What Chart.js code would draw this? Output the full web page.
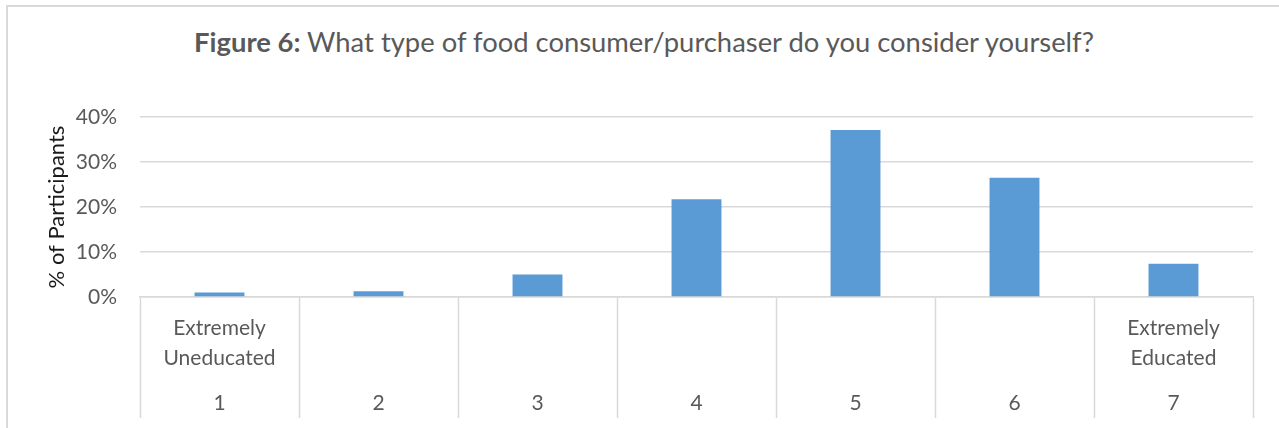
<!DOCTYPE html>
<html lang="en">
<head>
    <meta charset="UTF-8">
    <title>Figure 6: Food consumer type</title>
    <script src="https://cdn.jsdelivr.net/npm/chart.js"></script>
    <style>
        body { margin: 0; background: #fff; }
        #wrap { position: relative; width: 1279px; height: 428px; overflow: hidden; }
        #frame { position: absolute; left: 6px; top: 5px; width: 1400px; height: 500px;
                 border-top: 2px solid #d9d9d9; border-left: 2px solid #d9d9d9; }
        #title { position: absolute; left: 0; width: 1288px; top: 25px; text-align: center;
                 font-family: Lato, sans-serif; font-size: 27.4px; color: #595959; white-space: nowrap; }
        #title b { font-weight: 700; }
        canvas { position: absolute; left: 0; top: 0; }
    </style>
</head>
<body>
<div id="wrap">
    <div id="frame"></div>
    <div id="title"><b>Figure 6:</b> What type of food consumer/purchaser do you consider yourself?</div>
    <canvas id="foodChart" width="1279" height="428"></canvas>
</div>

<script>
// scale points 1..7 and the share of participants choosing each (%)
const scalePoints = ['1', '2', '3', '4', '5', '6', '7'];
const endLabels = ['Extremely\nUneducated', '', '', '', '', '', 'Extremely\nEducated'];
const participantPct = [1.0, 1.3, 5.0, 21.7, 37.1, 26.5, 7.4];
const yTicks = [0, 10, 20, 30, 40];

// each tick label: end-point description on top, scale number underneath
const tickLabels = scalePoints.map((p, i) => {
    const parts = endLabels[i] ? endLabels[i].split('\n') : ['', ''];
    return [parts[0], '', parts[1], '', '', p];
});

const grey = '#d9d9d9';
const textGrey = '#595959';

Chart.defaults.font.family = 'Lato, sans-serif';

const ctx = document.getElementById('foodChart').getContext('2d');
const chart = new Chart(ctx, {
    type: 'bar',
    data: {
        labels: tickLabels,
        datasets: [{
            label: '% of Participants',
            data: participantPct,
            backgroundColor: '#5b9bd5',
            barPercentage: 0.314,
            categoryPercentage: 1.0,
        }],
    },
    options: {
        responsive: false,
        animation: false,
        layout: { padding: { top: 117, right: 26, bottom: 0, left: 0 } },
        plugins: {
            legend: { display: false },
            tooltip: { enabled: false },
        },
        scales: {
            x: {
                grid: {
                    offset: true,
                    drawOnChartArea: false,
                    drawTicks: true,
                    tickLength: 121,
                    tickColor: grey,
                    tickWidth: 1.5,
                },
                border: { display: true, color: grey, width: 1.5 },
                ticks: {
                    autoSkip: false,
                    maxRotation: 0,
                    padding: -97,
                    color: textGrey,
                    font: { size: 21, lineHeight: '15px' },
                },
                afterFit: (scale) => { scale.height = 131; },
            },
            y: {
                min: 0,
                max: 40,
                afterBuildTicks: (scale) => { scale.ticks = yTicks.map(v => ({ value: v })); },
                grid: { color: grey, lineWidth: 1.5, drawTicks: false },
                border: { display: false },
                ticks: {
                    padding: 23,
                    color: textGrey,
                    font: { size: 21 },
                    callback: (v) => v + '%',
                },
                title: {
                    display: true,
                    text: '% of Participants',
                    color: '#1a1a1a',
                    font: { size: 22 },
                    padding: { top: 44, bottom: 0 },
                },
                afterFit: (scale) => { scale.width = 140; },
            },
        },
    },
});
</script>
</body>
</html>
